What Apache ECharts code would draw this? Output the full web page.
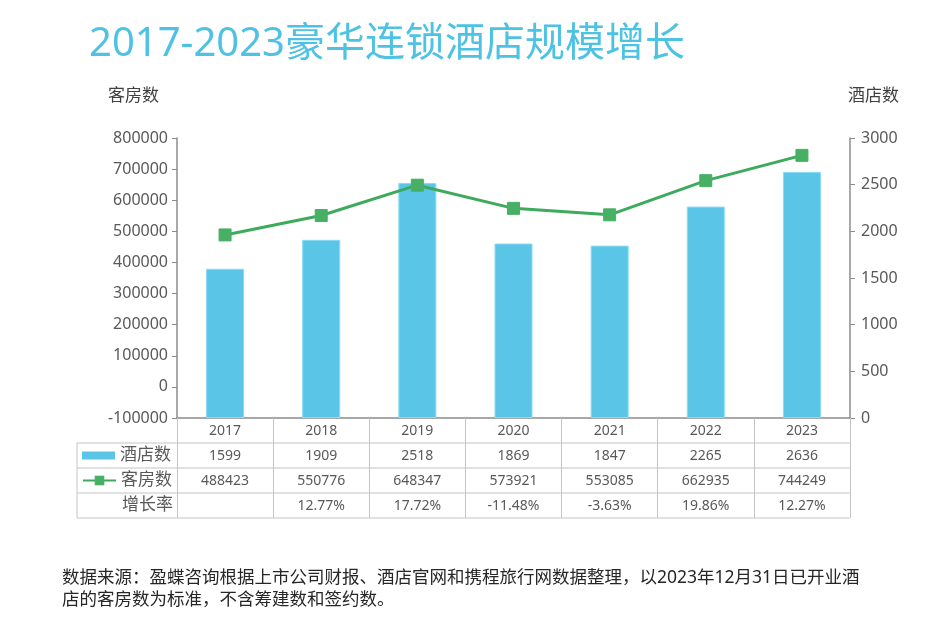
<!DOCTYPE html>
<html>
<head>
<meta charset="utf-8">
<script src="https://cdn.jsdelivr.net/npm/echarts@6/dist/echarts.min.js"></script>
<style>html,body{margin:0;padding:0;background:#fff;}#c{width:948px;height:622px;}</style>
</head>
<body>
<div id="c"></div>
<script>
const years = ['2017','2018','2019','2020','2021','2022','2023'];
const hotels = [1599, 1909, 2518, 1869, 1847, 2265, 2636];
const rooms = [488423, 550776, 648347, 573921, 553085, 662935, 744249];
const growth = ['', '12.77%', '17.72%', '-11.48%', '-3.63%', '19.86%', '12.27%'];
const roomAxis = {min: -100000, max: 800000, interval: 100000};
const hotelAxis = {min: 0, max: 3000, interval: 500};
const rowLabels = ['酒店数', '客房数', '增长率'];
const titleText = '2017-2023豪华连锁酒店规模增长';
const noteText = '数据来源：盈蝶咨询根据上市公司财报、酒店官网和携程旅行网数据整理，以2023年12月31日已开业酒\n店的客房数为标准，不含筹建数和签约数。';

const FONT = '"Noto Sans", "Noto Sans CJK SC", sans-serif';
const GL = 177, GR = 850, GT = 138, GB = 418, ROW = 25, TL = 77;
const tableGray = '#c4c4c4', axisGray = '#8c8c8c', txt = '#595959';

const chart = echarts.init(document.getElementById('c'));

function rowAxis(data, idx) {
  return {
    type: 'category', gridIndex: 0, position: 'bottom', offset: ROW * idx,
    data: data.map(String),
    axisLine: {show: false, onZero: false}, axisTick: {show: false},
    axisLabel: {interval: 0, margin: 6, fontSize: 14, color: txt, fontFamily: FONT}
  };
}

const graphics = [];
for (let i = 1; i <= 4; i++) {
  graphics.push({type: 'line', silent: true,
    shape: {x1: TL, y1: GB + ROW * i, x2: GR, y2: GB + ROW * i},
    style: {stroke: tableGray, lineWidth: 1}});
}
graphics.push({type: 'line', silent: true,
  shape: {x1: TL, y1: GB + ROW, x2: TL, y2: GB + ROW * 4},
  style: {stroke: tableGray, lineWidth: 1}});
graphics.push({type: 'text', x: 173, y: GB + ROW * 3.5,
  style: {text: rowLabels[2], fontSize: 17, fill: txt, fontFamily: FONT, align: 'right', verticalAlign: 'middle'}});
graphics.push({type: 'text', x: 108, y: 96,
  style: {text: '客房数', fontSize: 17, fill: '#404040', fontFamily: FONT, verticalAlign: 'middle'}});
graphics.push({type: 'text', x: 848, y: 96,
  style: {text: '酒店数', fontSize: 17, fill: '#404040', fontFamily: FONT, verticalAlign: 'middle'}});
graphics.push({type: 'text', x: 62, y: 567,
  style: {text: noteText, fontSize: 17.5, lineHeight: 22, fill: '#262626', fontFamily: FONT}});

chart.setOption({
  animation: false,
  title: {text: titleText, left: 84, top: 20,
    textStyle: {fontSize: 40, color: '#4EC2E2', fontWeight: 'normal', fontFamily: FONT}},
  legend: [
    {data: [{name: '酒店数', icon: 'rect'}], left: 82, top: GB + ROW * 1.5 - 9, padding: 0,
      itemWidth: 33, itemHeight: 8, itemGap: 5,
      itemStyle: {borderWidth: 0},
      textStyle: {fontSize: 17, color: txt, fontFamily: FONT, lineHeight: 18}},
    {data: ['客房数'], left: 82, top: GB + ROW * 2.5 - 9, padding: 0,
      itemWidth: 33, itemHeight: 12, itemGap: 5,
      textStyle: {fontSize: 17, color: txt, fontFamily: FONT, lineHeight: 18}}
  ],
  grid: {left: GL, right: 948 - GR, top: GT, bottom: 622 - GB, containLabel: false},
  xAxis: [
    {type: 'category', data: years, gridIndex: 0,
      axisLine: {onZero: false, lineStyle: {color: axisGray, width: 1.5}},
      axisTick: {show: true, length: ROW * 4, lineStyle: {color: tableGray, width: 1}},
      axisLabel: {interval: 0, margin: 6, fontSize: 14, color: txt, fontFamily: FONT}},
    rowAxis(hotels, 1),
    rowAxis(rooms, 2),
    rowAxis(growth, 3)
  ],
  yAxis: [
    {type: 'value', position: 'left', min: roomAxis.min, max: roomAxis.max, interval: roomAxis.interval,
      splitLine: {show: false},
      axisLine: {show: true, lineStyle: {color: axisGray, width: 1.5}},
      axisTick: {show: true, length: 5, lineStyle: {color: axisGray}},
      axisLabel: {margin: 9, fontSize: 16, color: txt, fontFamily: FONT, formatter: v => String(v)}},
    {type: 'value', position: 'right', min: hotelAxis.min, max: hotelAxis.max, interval: hotelAxis.interval,
      splitLine: {show: false},
      axisLine: {show: true, lineStyle: {color: axisGray, width: 1.5}},
      axisTick: {show: true, length: 5, lineStyle: {color: axisGray}},
      axisLabel: {margin: 11, fontSize: 16, color: txt, fontFamily: FONT, formatter: v => String(v)}}
  ],
  series: [
    {name: '酒店数', type: 'bar', xAxisIndex: 0, yAxisIndex: 1, data: hotels, barWidth: 38,
      itemStyle: {color: '#5BC5E8', borderColor: '#86DDF4', borderWidth: 1}},
    {name: '客房数', type: 'line', xAxisIndex: 0, yAxisIndex: 0, data: rooms,
      symbol: 'rect', symbolSize: 12, z: 5,
      lineStyle: {color: '#3DAA5C', width: 3},
      itemStyle: {color: '#48B064', borderColor: '#48B064'}}
  ],
  graphic: graphics
});
</script>
</body>
</html>
